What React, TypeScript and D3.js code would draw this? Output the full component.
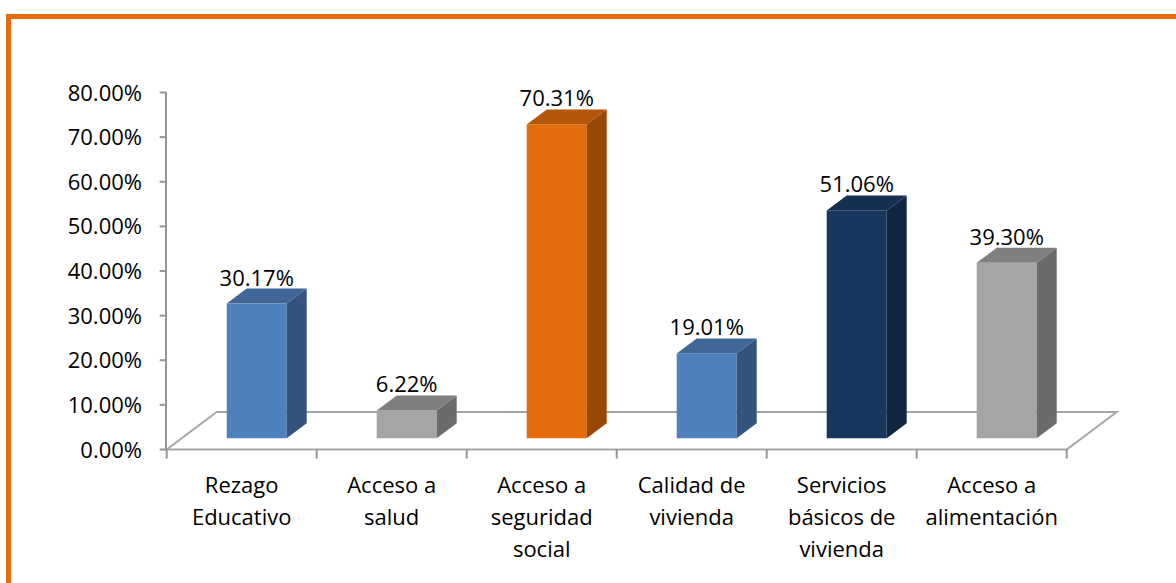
import React, { useRef, useEffect } from 'react';
import * as d3 from 'd3';

// categories are split in lines the way they wrap under the axis
const categories = [
  ['Rezago', 'Educativo'],
  ['Acceso a', 'salud'],
  ['Acceso a', 'seguridad', 'social'],
  ['Calidad de', 'vivienda'],
  ['Servicios', 'básicos de', 'vivienda'],
  ['Acceso a', 'alimentación'],
];
const values = [30.17, 6.22, 70.31, 19.01, 51.06, 39.3];
const yTicks = [0, 10, 20, 30, 40, 50, 60, 70, 80];

// front / top / side colours for each bar
const blue = ['#4F81BD', '#3F6898', '#34547D'];
const gray = ['#A5A5A5', '#7F7F7F', '#6B6B6B'];
const orange = ['#E46C0A', '#B55608', '#974806'];
const navy = ['#17375E', '#152F51', '#10253F'];
const barColors = [blue, gray, orange, blue, navy, gray];

const FONT = '"Open Sans", sans-serif';
const FONT_SIZE = '22px';

function App() {
  const svgRef = useRef<SVGSVGElement>(null);

  useEffect(() => {
    const layout = { width: 1176, height: 583, left: 166.7, right: 1066.7, depthX: 50, depthY: 37.5 };
    const svg = d3.select(svgRef.current)
      .attr('width', layout.width)
      .attr('height', layout.height);
    svg.selectAll('*').remove();

    // orange frame (top + left only)
    svg.append('path')
      .attr('d', `M8.5,${layout.height} L8.5,16.5 L${layout.width},16.5`)
      .attr('fill', 'none')
      .attr('stroke', '#E46C0A')
      .attr('stroke-width', 5);

    const x = d3.scaleBand<number>()
      .domain(d3.range(values.length))
      .range([layout.left, layout.right])
      .padding(0);

    const y = d3.scaleLinear()
      .domain([0, 80])
      .range([449.5, 92.5]);

    // floor
    const y0 = y(0);
    svg.append('path')
      .attr('d', `M${layout.left},${y0} L${layout.left + layout.depthX},${y0 - layout.depthY} L${layout.right + layout.depthX},${y0 - layout.depthY} L${layout.right},${y0} Z`)
      .attr('fill', 'none')
      .attr('stroke', '#A6A6A6')
      .attr('stroke-width', 2);

    // value axis
    svg.append('line')
      .attr('x1', layout.left - 0.7).attr('x2', layout.left - 0.7)
      .attr('y1', y(80)).attr('y2', y0)
      .attr('stroke', '#969696').attr('stroke-width', 2);

    const yg = svg.append('g');
    yg.selectAll('line')
      .data(yTicks)
      .join('line')
      .attr('x1', layout.left - 7).attr('x2', layout.left)
      .attr('y1', d => y(d)).attr('y2', d => y(d))
      .attr('stroke', '#969696').attr('stroke-width', 2);
    yg.selectAll('text')
      .data(yTicks)
      .join('text')
      .attr('x', 142)
      .attr('y', d => y(d) + 8)
      .attr('text-anchor', 'end')
      .style('font-family', FONT)
      .style('font-size', FONT_SIZE)
      .attr('fill', '#000')
      .text(d => d3.format('.2f')(d) + '%');

    // category ticks along the front edge
    const xTicks = d3.range(values.length + 1).map(i => layout.left + i * x.step());
    svg.append('g').selectAll('line')
      .data(xTicks)
      .join('line')
      .attr('x1', d => d).attr('x2', d => d)
      .attr('y1', y0).attr('y2', y0 + 9)
      .attr('stroke', '#969696').attr('stroke-width', 2);

    // bars, sitting in the middle of the floor depth
    const front = 0.3, back = 0.7;
    const bw = x.bandwidth() * 0.4;
    const bars = svg.append('g').selectAll('g')
      .data(values)
      .join('g');

    const geo = (v: number, i: number) => {
      const cx = (x(i) as number) + x.bandwidth() / 2 + layout.depthX * front;
      const x0 = cx - bw / 2, x1 = cx + bw / 2;
      const yb = y(0) - layout.depthY * front;
      const yt = y(v) - layout.depthY * front;
      const dx = layout.depthX * (back - front), dy = layout.depthY * (back - front);
      return { cx, x0, x1, yb, yt, dx, dy };
    };

    bars.append('rect')
      .attr('x', (v, i) => geo(v, i).x0)
      .attr('y', (v, i) => geo(v, i).yt)
      .attr('width', bw)
      .attr('height', (v, i) => geo(v, i).yb - geo(v, i).yt)
      .attr('fill', (v, i) => barColors[i][0]);

    bars.append('path')
      .attr('d', (v, i) => {
        const g = geo(v, i);
        return `M${g.x0},${g.yt} L${g.x0 + g.dx},${g.yt - g.dy} L${g.x1 + g.dx},${g.yt - g.dy} L${g.x1},${g.yt} Z`;
      })
      .attr('fill', (v, i) => barColors[i][1]);

    bars.append('path')
      .attr('d', (v, i) => {
        const g = geo(v, i);
        return `M${g.x1},${g.yb} L${g.x1 + g.dx},${g.yb - g.dy} L${g.x1 + g.dx},${g.yt - g.dy} L${g.x1},${g.yt} Z`;
      })
      .attr('fill', (v, i) => barColors[i][2]);

    bars.append('text')
      .attr('x', (v, i) => geo(v, i).cx)
      .attr('y', (v, i) => geo(v, i).yt - geo(v, i).dy - 3)
      .attr('text-anchor', 'middle')
      .style('font-family', FONT)
      .style('font-size', FONT_SIZE)
      .attr('fill', '#000')
      .text(v => d3.format('.2f')(v) + '%');

    // category labels
    const cg = svg.append('g').selectAll('text')
      .data(categories)
      .join('text')
      .attr('x', (c, i) => (x(i) as number) + x.bandwidth() / 2)
      .attr('y', 493)
      .attr('text-anchor', 'middle')
      .style('font-family', FONT)
      .style('font-size', FONT_SIZE)
      .attr('fill', '#000');
    cg.selectAll('tspan')
      .data(c => c)
      .join('tspan')
      .attr('x', function () { return (this.parentNode as SVGTextElement).getAttribute('x'); })
      .attr('dy', (d, j) => (j === 0 ? 0 : 32))
      .text(d => d);
  }, []);

  return (
    <svg ref={svgRef} style={{ position: 'fixed', top: 0, left: 0, background: '#fff' }}></svg>
  );
}

export default App;
